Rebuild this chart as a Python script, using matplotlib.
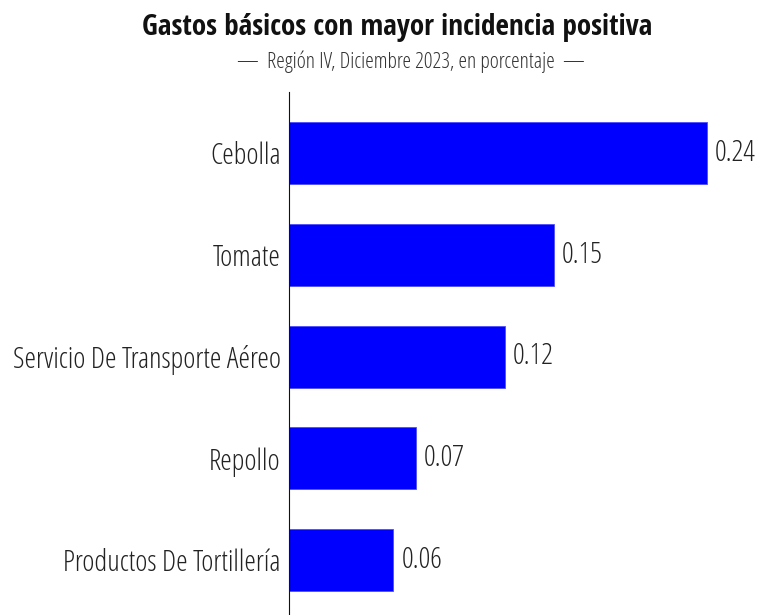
import matplotlib
matplotlib.use('Agg')
import matplotlib.pyplot as plt
from matplotlib import font_manager as fm
import os


def pick_font(patterns, fallback_weight):
    # search the installed font files for a condensed face
    files = [f.fname for f in fm.fontManager.ttflist]
    for pat in patterns:
        for fn in files:
            base = os.path.basename(fn).replace('_', '').replace('-', '').lower()
            if base.startswith(pat):
                return fm.FontProperties(fname=fn)
    return fm.FontProperties(family='Open Sans', weight=fallback_weight)


light = pick_font(['opensanscondensedlight', 'opensanscondlight', 'robotocondensedlight',
                   'robotocondensedregular', 'barlowsemicondensedlight'], 'light')
bold = pick_font(['opensanscondensedbold', 'opensanscondbold', 'robotocondensedbold',
                  'barlowsemicondensedsemibold'], 'bold')

categories = ['Cebolla', 'Tomate', 'Servicio De Transporte Aéreo', 'Repollo', 'Productos De Tortillería']
values = [0.24, 0.152, 0.124, 0.073, 0.060]

fig = plt.figure(figsize=(7.69, 6.15), dpi=100)
ax = fig.add_axes([289 / 769, 0, 465 / 769, 1 - 92 / 615])

y = list(range(len(categories)))
ax.barh(y, values, height=0.61, color='#0000ff', edgecolor='#4d4dff', linewidth=0.6)
ax.set_ylim(4.54, -0.6)
ax.set_xlim(0, 0.267)
ax.set_yticks(y)
ax.set_yticklabels(categories)
for lab in ax.get_yticklabels():
    lab.set_fontproperties(light)
    lab.set_fontsize(21)
    lab.set_color('#222222')
ax.tick_params(axis='y', length=0, pad=6)
ax.set_xticks([])
for s in ['top', 'right', 'bottom']:
    ax.spines[s].set_visible(False)
ax.spines['left'].set_color('#111111')

for yi, v in zip(y, values):
    ax.text(v + 0.0045, yi, f'{v:.2f}', va='center', ha='left', fontproperties=light,
            fontsize=21, color='#222222')

fig.text(397 / 769, 1 - 27 / 615, 'Gastos básicos con mayor incidencia positiva',
         ha='center', va='center', fontproperties=bold, fontsize=21, color='#111111')
fig.text(411 / 769, 1 - 62 / 615, '—  Región IV, Diciembre 2023, en porcentaje  —',
         ha='center', va='center', fontproperties=light, fontsize=15.7, color='#333333')

fig.savefig('out.png', dpi=100)
